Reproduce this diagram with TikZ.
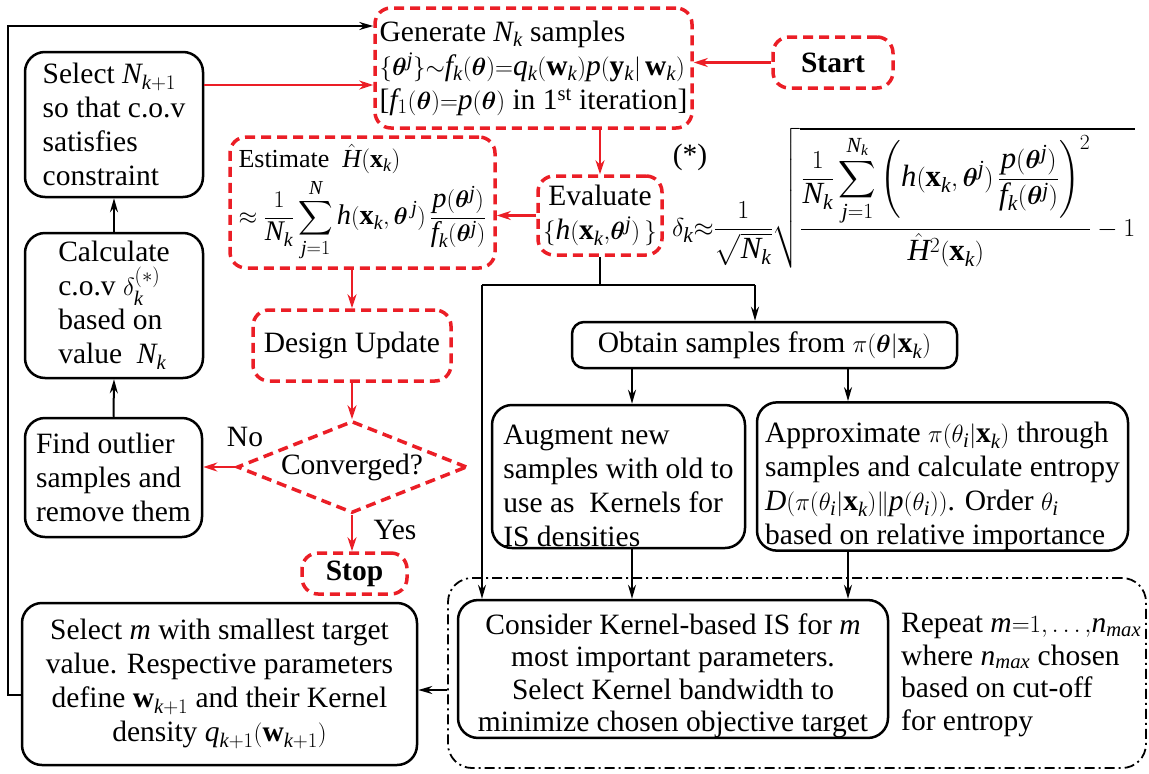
\documentclass[tikz,border=0pt]{standalone}
\usepackage{amsmath}
\usepackage{bm}
\usepackage{fontspec}
\setmainfont{Liberation Serif}
\usepackage{graphicx}
\usetikzlibrary{arrows.meta,shapes.geometric,calc}
\definecolor{myred}{RGB}{235,30,38}
\newcommand{\mi}[1]{\mathit{#1}}
\begin{document}
\begin{tikzpicture}[x=1pt,y=-1pt,
 every node/.style={font=\fontsize{29.5}{34}\selectfont, inner sep=0pt},
 bbox/.style={draw=black, line width=2.5pt, rounded corners=20pt, align=left},
 rbox/.style={draw=myred, line width=3.5pt, dash pattern=on 10pt off 6pt, rounded corners=16pt, align=left},
 barrow/.style={line width=2pt, -{Stealth[length=14pt,width=8pt]}},
 rarrow/.style={draw=myred, line width=2.5pt, -{Stealth[length=14pt,width=9pt]}},
 bline/.style={line width=2pt}
]
\useasboundingbox (0,0) rectangle (1149,774);

% dash-dot loop box (behind)
\node[draw, line width=1.8pt, dash pattern=on 10pt off 4pt on 2pt off 4pt, rounded corners=24pt, minimum width=698pt, minimum height=190pt] (loop) at (797,673) {};

\node[rbox, minimum width=317pt, minimum height=120pt] (gen) at (533.5,68)
 {Generate $\mi{N_k}$ samples\\
  $\{\bm\theta^{\mi j}\}{\sim}\mi{f_k}(\bm\theta){=}\mi{q_k}(\mathbf w_{\mi k})\mi p(\mathbf y_{\mi k}|\,\mathbf w_{\mi k})$\\
  {[}$\mi f_1(\bm\theta){=}\mi p(\bm\theta)$ in 1\textsuperscript{st} iteration]};
\node[rbox, minimum width=120pt, minimum height=51pt] (start) at (833,62.5) {\textbf{Start}};

\node[bbox, minimum width=178pt, minimum height=145pt] (selN) at (114,124.5)
 {Select $\mi N_{\mi k+1}$\\so that c.o.v\\satisfies\\constraint};
\node[bbox, minimum width=178pt, minimum height=145pt] (calc) at (114,305.5)
 {Calculate\\c.o.v $\delta_{\mi k}^{(*)}$\\based on\\value~ $\mi{N_k}$};
\node[bbox, minimum width=177pt, minimum height=119pt] (find) at (113.5,477.5)
 {Find outlier\\samples and\\remove them};

\node[rbox, minimum width=265pt, minimum height=131pt] (est) at (362.5,202.5)
 {{\fontsize{26}{30}\selectfont Estimate~ $\hat{\mi H}(\mathbf{x}_{\mi k})$}\\[4pt]
  \resizebox{248pt}{!}{$\approx\dfrac{1}{\mi{N_k}}\displaystyle\sum_{\mi j=1}^{\mi N}\mi h(\mathbf x_{\mi k},\bm\theta^{\,\mi j})\,\dfrac{\mi p(\bm\theta^{\mi j})}{\mi{f_k}(\bm\theta^{\mi j})}$}};
\node[rbox, align=center, minimum width=124pt, minimum height=79pt] (eval) at (600,215.5)
 {Evaluate\\$\{\mi h(\mathbf x_{\mi k}{,}\bm\theta^{\mi j})\,\}$};

\node (star) at (690,157) {(*)};
\node[anchor=west] (cov) at (672,198) {\resizebox{463pt}{!}{$\displaystyle \delta_{\mi k}{\approx}\frac{1}{\sqrt{\mi{N_k}}}\sqrt{\frac{\dfrac{1}{\mi{N_k}}\displaystyle\sum_{\mi j=1}^{\mi{N_k}}\left(\mi h(\mathbf x_{\mi k},\bm\theta^{\mi j})\,\frac{\mi p(\bm\theta^{\mi j})}{\mi{f_k}(\bm\theta^{\mi j})}\right)^{2}}{\hat{\mi H}^{2}(\mathbf x_{\mi k})}-1}$}};

\node[rbox, minimum width=198pt, minimum height=71pt] (design) at (352,345.5) {Design Update};
\node[draw=myred, line width=3.5pt, dash pattern=on 10pt off 6pt, diamond, shape aspect=2.5, minimum width=230pt, minimum height=92pt] (conv) at (352,467) {Converged?};
\node[rbox, minimum width=105pt, minimum height=41pt] (stop) at (354.5,573.5) {\textbf{Stop}};
\node (no) at (245,437) {No};
\node (yes) at (395,530) {Yes};

\node[bbox, rounded corners=12pt, minimum width=385pt, minimum height=46pt] (obtain) at (764.5,345)
 {Obtain samples from $\pi(\bm\theta|\mathbf x_{\mi k})$};
\node[bbox, minimum width=253pt, minimum height=143pt] (aug) at (618.5,476.5)
 {\rule{0pt}{38pt}Augment new\\samples with old to\\use as~ Kernels for\\IS densities};
\node[bbox, minimum width=371pt, minimum height=143pt] (approx) at (942.5,476.5)
 {\rule{0pt}{40pt}Approximate $\pi(\theta_{\mi i}|\mathbf x_{\mi k})$ through\\samples and calculate entropy\\$\mi D(\pi(\theta_{\mi i}|\mathbf x_{\mi k})\|\mi p(\theta_{\mi i}))$. Order $\theta_{\mi i}$\\based on relative importance};

\node[bbox, align=center, minimum width=430pt, minimum height=132pt, font=\fontsize{29.5}{32.5}\selectfont] (consider) at (673,669)
 {\rule{0pt}{34pt}Consider Kernel-based IS for $\mi m$\\most important parameters.\\Select Kernel bandwidth to\\minimize chosen objective target};
\node[anchor=west, align=left, font=\fontsize{29.5}{32.5}\selectfont] (rep) at (901,675)
 {Repeat $\mi m{=}1{,}\ldots{,}\mi{n_{max}}$\\where $\mi{n_{max}}$ chosen\\based on cut-off\\for entropy};
\node[bbox, align=center, minimum width=395pt, minimum height=162pt] (selm) at (219.5,684)
 {Select $\mi m$ with smallest target\\value. Respective parameters\\define $\mathbf w_{\mi k+1}$ and their Kernel\\density $\mi q_{\mi k+1}(\mathbf w_{\mi k+1})$};

% coordinates
\coordinate (p1) at ([yshift=39.5pt]selN.east);
\coordinate (p2) at ([yshift=-11pt]selm.west);
\coordinate (lt) at (8,26);
\coordinate (jL) at (482,285);
\coordinate (jR) at (755,285);
\coordinate (ax) at (632,0);
\coordinate (bx) at (848,0);
\coordinate (la) at (447,690);

% red connectors
\draw[rarrow] (start.west) -- (start.west -| gen.east);
\draw[rarrow] (p1) -- (p1 -| gen.west);
\draw[rarrow] (gen.south -| eval.north) -- (eval.north);
\draw[rarrow] (eval.west) -- (eval.west -| est.east);
\draw[rarrow] (design.north |- est.south) -- (design.north);
\draw[rarrow] (design.south) -- (conv.north);
\draw[rarrow] (conv.west) -- (conv.west -| find.east);
\draw[rarrow] (conv.south) -- (conv.south |- stop.north);

% black connectors
\draw[barrow] (calc.north) -- (selN.south);
\draw[barrow] (find.north) -- (calc.south);
\draw[barrow] (p2) -- (p2 -| lt) -- (lt) -- (lt -| gen.west);
\draw[bline] (eval.south) -- (eval.south |- jL);
\draw[bline] (jL) -- (jR);
\draw[barrow] (jR) -- (jR |- obtain.north);
\draw[barrow] (jL) -- (jL |- consider.north);
\draw[barrow] (obtain.south -| ax) -- (aug.north -| ax);
\draw[barrow] (obtain.south -| bx) -- (approx.north -| bx);
\draw[barrow] (aug.south -| ax) -- (consider.north -| ax);
\draw[barrow] (approx.south -| bx) -- (consider.north -| bx);
\draw[barrow] (la) -- (la -| selm.east);
\end{tikzpicture}
\end{document}
